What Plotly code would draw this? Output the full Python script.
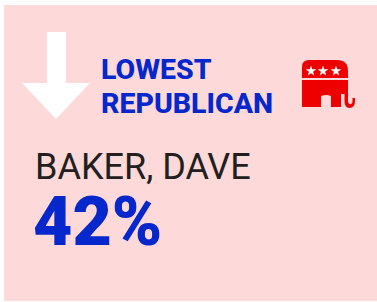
import plotly.graph_objects as go

# ---- data ----
heading_lines = ["LOWEST", "REPUBLICAN"]
candidate_name = "BAKER, DAVE"
vote_share_pct = [42]
star_x = [311, 323, 336]
star_y = [71, 71, 71]

W, H = 377, 302
PINK = "#fdd9d9"
BLUE = "#0627cc"
RED = "#ef0000"
DARK = "#231f20"

fig = go.Figure()

# stars on elephant (drawn as markers via axes)
fig.add_trace(go.Scatter(x=star_x, y=star_y, mode="markers",
                         marker=dict(symbol="star", size=8, color="white", line=dict(width=0)),
                         hoverinfo="skip", showlegend=False))

shapes = []
# card background
shapes.append(dict(type="rect", x0=4, x1=377, y0=5, y1=301, fillcolor=PINK, line=dict(width=0), layer="below"))
# down arrow
shapes.append(dict(type="path", path="M 47 32 L 66 32 L 66 83 L 90 83 L 56 119 L 22 83 L 47 83 Z",
                   fillcolor="white", line=dict(width=0), layer="below"))
# elephant upper body
shapes.append(dict(type="path",
                   path="M 302 78 L 302 67 Q 302 60 309 60 L 337 60 Q 348 60 348 71 L 348 78 Z",
                   fillcolor=RED, line=dict(width=0), layer="below"))
# elephant lower body + legs + trunk
shapes.append(dict(type="path",
                   path=("M 302 80 L 348 80 L 348 101 Q 348 104 350.5 104 Q 352.5 104 352.5 101 L 352.5 98 L 355 98 L 355 101 "
                         "Q 355 108 349.5 108 Q 344.5 108 344.5 101 L 344.5 94 L 341 94 L 341 107 L 331 107 L 331 96 "
                         "Q 326 94 321 96 L 321 107 L 313 107 L 313 96 L 313 107 L 302 107 Z"),
                   fillcolor=RED, line=dict(width=0), layer="below"))

annotations = []
annotations.append(dict(x=99, y=69, xref="x", yref="y", text=heading_lines[0],
                        showarrow=False, xanchor="left", yanchor="middle",
                        font=dict(family="Roboto", size=28.5, color=BLUE, weight=800)))
annotations.append(dict(x=99, y=103, xref="x", yref="y", text=heading_lines[1],
                        showarrow=False, xanchor="left", yanchor="middle",
                        font=dict(family="Roboto", size=28.5, color=BLUE, weight=800)))
annotations.append(dict(x=33, y=167, xref="x", yref="y", text=candidate_name,
                        showarrow=False, xanchor="left", yanchor="middle",
                        font=dict(family="Roboto", size=36, color=DARK)))
annotations.append(dict(x=31, y=222, xref="x", yref="y", text=f"{vote_share_pct[0]}%",
                        showarrow=False, xanchor="left", yanchor="middle",
                        font=dict(family="Roboto", size=68, color=BLUE, weight=900)))

fig.update_layout(
    width=W, height=H, autosize=False,
    margin=dict(l=0, r=0, t=0, b=0),
    paper_bgcolor="white", plot_bgcolor="rgba(0,0,0,0)",
    xaxis=dict(range=[0, W], visible=False, fixedrange=True),
    yaxis=dict(range=[H, 0], visible=False, fixedrange=True),
    shapes=shapes, annotations=annotations, showlegend=False,
)

fig.write_html("out.html", config={"displayModeBar": False},
               post_script="document.body.style.margin='0px';document.body.style.padding='0px';")
